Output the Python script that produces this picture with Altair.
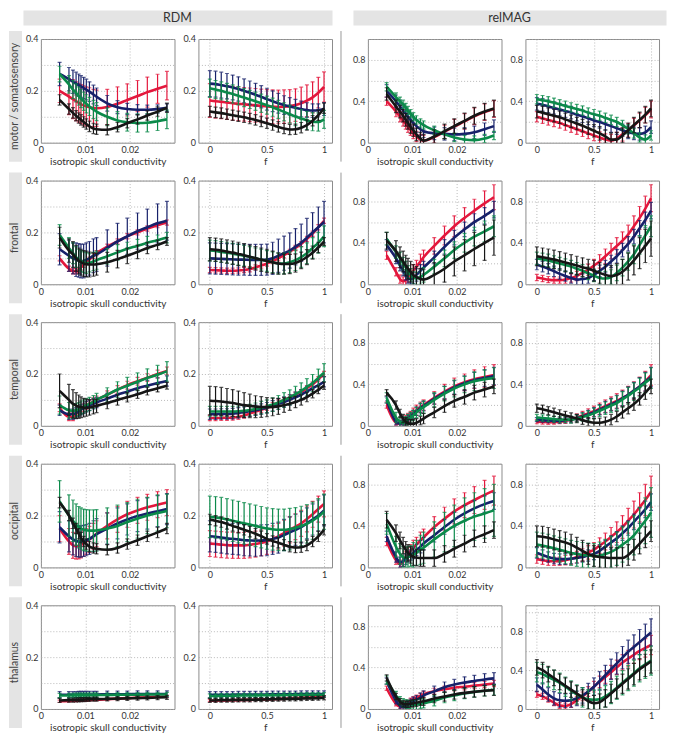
import altair as alt
import pandas as pd

# ---------------- x positions ----------------
XC = [0.0042, 0.0063, 0.0072, 0.0079, 0.0085, 0.0090, 0.0096, 0.0102, 0.0109, 0.0118,
      0.0125, 0.0149, 0.0172, 0.0194, 0.0217, 0.0239, 0.0262, 0.0283]
XF = [0.0, 0.05, 0.1, 0.15, 0.2, 0.25, 0.3, 0.35, 0.4, 0.45, 0.5,
      0.55, 0.6, 0.65, 0.7, 0.75, 0.8, 0.85, 0.9, 0.95, 1.0]

# ---------------- motor / somatosensory ----------------
motor_rdm_c_red = [0.200, 0.178, 0.168, 0.160, 0.154, 0.149, 0.144, 0.140, 0.137, 0.134, 0.133, 0.138, 0.150, 0.165, 0.180, 0.195, 0.208, 0.220]
motor_rdm_c_red_e = [0.045, 0.070, 0.075, 0.075, 0.075, 0.075, 0.075, 0.075, 0.075, 0.072, 0.070, 0.068, 0.065, 0.062, 0.060, 0.058, 0.056, 0.055]
motor_rdm_c_navy = [0.265, 0.245, 0.235, 0.228, 0.222, 0.217, 0.211, 0.205, 0.197, 0.186, 0.177, 0.152, 0.137, 0.130, 0.127, 0.127, 0.130, 0.135]
motor_rdm_c_navy_e = [0.045, 0.045, 0.045, 0.044, 0.043, 0.042, 0.041, 0.040, 0.038, 0.036, 0.034, 0.030, 0.025, 0.022, 0.020, 0.018, 0.016, 0.015]
motor_rdm_c_green = [0.265, 0.225, 0.205, 0.192, 0.180, 0.170, 0.160, 0.150, 0.140, 0.128, 0.120, 0.100, 0.086, 0.079, 0.076, 0.077, 0.083, 0.090]
motor_rdm_c_green_e = [0.030, 0.034, 0.035, 0.035, 0.035, 0.035, 0.035, 0.035, 0.035, 0.035, 0.035, 0.034, 0.034, 0.034, 0.035, 0.035, 0.036, 0.036]
motor_rdm_c_black = [0.165, 0.130, 0.115, 0.104, 0.095, 0.088, 0.080, 0.072, 0.063, 0.055, 0.052, 0.050, 0.060, 0.075, 0.090, 0.105, 0.120, 0.135]
motor_rdm_c_black_e = [0.020, 0.020, 0.020, 0.020, 0.020, 0.020, 0.020, 0.020, 0.020, 0.020, 0.020, 0.020, 0.018, 0.018, 0.018, 0.018, 0.018, 0.018]

motor_rdm_f_red = [0.163, 0.160, 0.158, 0.155, 0.152, 0.150, 0.148, 0.146, 0.144, 0.142, 0.140, 0.139, 0.138, 0.139, 0.141, 0.145, 0.152, 0.162, 0.175, 0.193, 0.215]
motor_rdm_f_red_e = [0.065, 0.065, 0.065, 0.065, 0.065, 0.065, 0.065, 0.065, 0.065, 0.065, 0.065, 0.065, 0.065, 0.065, 0.064, 0.063, 0.062, 0.061, 0.060, 0.059, 0.058]
motor_rdm_f_navy = [0.228, 0.226, 0.222, 0.218, 0.213, 0.207, 0.200, 0.193, 0.185, 0.177, 0.168, 0.160, 0.152, 0.145, 0.140, 0.135, 0.130, 0.126, 0.124, 0.125, 0.130]
motor_rdm_f_navy_e = [0.050, 0.050, 0.050, 0.049, 0.048, 0.047, 0.046, 0.045, 0.044, 0.043, 0.042, 0.040, 0.038, 0.036, 0.034, 0.032, 0.030, 0.028, 0.026, 0.025, 0.025]
motor_rdm_f_green = [0.210, 0.205, 0.200, 0.194, 0.188, 0.181, 0.174, 0.167, 0.160, 0.152, 0.145, 0.137, 0.128, 0.119, 0.110, 0.101, 0.093, 0.086, 0.081, 0.080, 0.090]
motor_rdm_f_green_e = [0.035, 0.035, 0.035, 0.035, 0.035, 0.035, 0.035, 0.035, 0.035, 0.035, 0.035, 0.035, 0.035, 0.035, 0.035, 0.035, 0.035, 0.035, 0.035, 0.035, 0.035]
motor_rdm_f_black = [0.120, 0.117, 0.114, 0.110, 0.106, 0.102, 0.098, 0.093, 0.088, 0.082, 0.075, 0.068, 0.061, 0.055, 0.051, 0.052, 0.058, 0.068, 0.085, 0.106, 0.133]
motor_rdm_f_black_e = [0.020, 0.020, 0.020, 0.020, 0.020, 0.020, 0.020, 0.020, 0.020, 0.020, 0.020, 0.020, 0.020, 0.020, 0.020, 0.020, 0.020, 0.020, 0.020, 0.020, 0.020]

motor_mag_c_red = [0.40, 0.30, 0.25, 0.21, 0.18, 0.15, 0.12, 0.09, 0.06, 0.03, 0.02, 0.055, 0.105, 0.155, 0.205, 0.255, 0.295, 0.325]
motor_mag_c_red_e = [0.040, 0.050, 0.050, 0.050, 0.050, 0.050, 0.050, 0.050, 0.050, 0.050, 0.050, 0.060, 0.065, 0.070, 0.075, 0.080, 0.080, 0.080]
motor_mag_c_navy = [0.50, 0.40, 0.35, 0.31, 0.28, 0.25, 0.22, 0.19, 0.16, 0.13, 0.11, 0.09, 0.085, 0.08, 0.085, 0.10, 0.13, 0.16]
motor_mag_c_navy_e = [0.060, 0.060, 0.060, 0.060, 0.060, 0.060, 0.060, 0.060, 0.060, 0.060, 0.060, 0.060, 0.060, 0.060, 0.060, 0.060, 0.060, 0.060]
motor_mag_c_green = [0.54, 0.44, 0.40, 0.37, 0.34, 0.31, 0.28, 0.25, 0.22, 0.19, 0.17, 0.12, 0.08, 0.05, 0.03, 0.025, 0.04, 0.07]
motor_mag_c_green_e = [0.040, 0.040, 0.040, 0.040, 0.040, 0.040, 0.040, 0.040, 0.040, 0.040, 0.040, 0.040, 0.040, 0.040, 0.040, 0.040, 0.040, 0.040]
motor_mag_c_black = [0.47, 0.35, 0.30, 0.26, 0.22, 0.19, 0.15, 0.12, 0.08, 0.04, 0.02, 0.06, 0.11, 0.16, 0.21, 0.26, 0.30, 0.33]
motor_mag_c_black_e = [0.060, 0.060, 0.060, 0.060, 0.060, 0.060, 0.060, 0.060, 0.060, 0.060, 0.060, 0.065, 0.070, 0.070, 0.075, 0.080, 0.080, 0.080]

motor_mag_f_red = [0.25, 0.235, 0.22, 0.205, 0.19, 0.17, 0.15, 0.13, 0.11, 0.09, 0.07, 0.05, 0.03, 0.02, 0.04, 0.08, 0.12, 0.165, 0.215, 0.265, 0.32]
motor_mag_f_red_e = [0.050, 0.050, 0.050, 0.050, 0.050, 0.050, 0.050, 0.050, 0.050, 0.050, 0.050, 0.055, 0.055, 0.060, 0.060, 0.065, 0.065, 0.070, 0.070, 0.075, 0.080]
motor_mag_f_navy = [0.375, 0.365, 0.35, 0.335, 0.32, 0.305, 0.29, 0.27, 0.255, 0.235, 0.215, 0.20, 0.18, 0.16, 0.14, 0.12, 0.10, 0.09, 0.085, 0.10, 0.15]
motor_mag_f_navy_e = [0.060, 0.060, 0.060, 0.060, 0.060, 0.060, 0.060, 0.060, 0.060, 0.060, 0.060, 0.060, 0.060, 0.060, 0.060, 0.060, 0.060, 0.060, 0.060, 0.060, 0.060]
motor_mag_f_green = [0.42, 0.41, 0.40, 0.385, 0.37, 0.355, 0.34, 0.325, 0.31, 0.29, 0.275, 0.26, 0.24, 0.22, 0.20, 0.17, 0.13, 0.09, 0.05, 0.03, 0.07]
motor_mag_f_green_e = [0.045, 0.045, 0.045, 0.045, 0.045, 0.045, 0.045, 0.045, 0.045, 0.045, 0.045, 0.045, 0.045, 0.045, 0.045, 0.045, 0.045, 0.045, 0.045, 0.045, 0.045]
motor_mag_f_black = [0.30, 0.29, 0.275, 0.26, 0.245, 0.225, 0.205, 0.185, 0.165, 0.14, 0.115, 0.09, 0.06, 0.03, 0.03, 0.07, 0.12, 0.17, 0.22, 0.27, 0.33]
motor_mag_f_black_e = [0.060, 0.060, 0.060, 0.060, 0.060, 0.060, 0.060, 0.060, 0.060, 0.060, 0.060, 0.065, 0.065, 0.065, 0.070, 0.070, 0.070, 0.075, 0.075, 0.080, 0.080]

# ---------------- frontal ----------------
frontal_rdm_c_red = [0.100, 0.060, 0.050, 0.050, 0.055, 0.065, 0.075, 0.085, 0.095, 0.110, 0.120, 0.145, 0.165, 0.185, 0.200, 0.215, 0.228, 0.238]
frontal_rdm_c_red_e = [0.010, 0.010, 0.010, 0.010, 0.010, 0.010, 0.010, 0.010, 0.010, 0.010, 0.010, 0.010, 0.010, 0.010, 0.010, 0.010, 0.010, 0.010]
frontal_rdm_c_navy = [0.135, 0.110, 0.100, 0.095, 0.092, 0.090, 0.090, 0.095, 0.100, 0.110, 0.115, 0.140, 0.165, 0.185, 0.205, 0.220, 0.235, 0.245]
frontal_rdm_c_navy_e = [0.060, 0.060, 0.060, 0.065, 0.065, 0.065, 0.065, 0.065, 0.065, 0.065, 0.065, 0.070, 0.070, 0.070, 0.070, 0.070, 0.075, 0.075]
frontal_rdm_c_green = [0.190, 0.140, 0.120, 0.105, 0.095, 0.090, 0.085, 0.082, 0.083, 0.088, 0.093, 0.108, 0.123, 0.137, 0.148, 0.160, 0.170, 0.180]
frontal_rdm_c_green_e = [0.040, 0.040, 0.040, 0.040, 0.040, 0.040, 0.040, 0.040, 0.035, 0.035, 0.035, 0.030, 0.030, 0.025, 0.025, 0.025, 0.020, 0.020]
frontal_rdm_c_black = [0.180, 0.130, 0.115, 0.100, 0.090, 0.085, 0.080, 0.078, 0.076, 0.076, 0.077, 0.085, 0.097, 0.110, 0.125, 0.140, 0.152, 0.165]
frontal_rdm_c_black_e = [0.040, 0.045, 0.050, 0.050, 0.050, 0.050, 0.050, 0.050, 0.048, 0.045, 0.042, 0.038, 0.034, 0.030, 0.026, 0.022, 0.018, 0.015]

frontal_rdm_f_red = [0.055, 0.054, 0.053, 0.052, 0.052, 0.053, 0.055, 0.058, 0.065, 0.072, 0.080, 0.090, 0.100, 0.112, 0.125, 0.140, 0.155, 0.175, 0.195, 0.220, 0.245]
frontal_rdm_f_red_e = [0.010, 0.010, 0.010, 0.010, 0.010, 0.010, 0.010, 0.010, 0.010, 0.010, 0.010, 0.010, 0.010, 0.010, 0.010, 0.010, 0.010, 0.010, 0.010, 0.010, 0.010]
frontal_rdm_f_navy = [0.100, 0.099, 0.098, 0.097, 0.096, 0.095, 0.095, 0.094, 0.094, 0.094, 0.095, 0.100, 0.110, 0.120, 0.130, 0.145, 0.160, 0.180, 0.200, 0.220, 0.240]
frontal_rdm_f_navy_e = [0.060, 0.060, 0.060, 0.060, 0.060, 0.060, 0.060, 0.060, 0.060, 0.060, 0.060, 0.062, 0.064, 0.066, 0.068, 0.070, 0.072, 0.074, 0.076, 0.078, 0.080]
frontal_rdm_f_green = [0.130, 0.128, 0.125, 0.122, 0.118, 0.114, 0.110, 0.105, 0.100, 0.095, 0.090, 0.085, 0.080, 0.080, 0.085, 0.093, 0.105, 0.120, 0.140, 0.160, 0.185]
frontal_rdm_f_green_e = [0.040, 0.040, 0.040, 0.040, 0.040, 0.040, 0.040, 0.040, 0.040, 0.040, 0.040, 0.040, 0.040, 0.040, 0.040, 0.040, 0.040, 0.040, 0.040, 0.040, 0.040]
frontal_rdm_f_black = [0.135, 0.133, 0.130, 0.126, 0.122, 0.117, 0.112, 0.106, 0.100, 0.095, 0.090, 0.085, 0.080, 0.078, 0.078, 0.082, 0.092, 0.105, 0.122, 0.142, 0.165]
frontal_rdm_f_black_e = [0.045, 0.045, 0.045, 0.045, 0.045, 0.045, 0.045, 0.045, 0.045, 0.045, 0.045, 0.043, 0.041, 0.039, 0.037, 0.035, 0.032, 0.029, 0.025, 0.020, 0.015]

frontal_mag_c_red = [0.28, 0.12, 0.05, 0.03, 0.04, 0.07, 0.10, 0.13, 0.17, 0.22, 0.26, 0.37, 0.47, 0.56, 0.64, 0.71, 0.78, 0.84]
frontal_mag_c_red_e = [0.04, 0.04, 0.04, 0.04, 0.05, 0.05, 0.05, 0.06, 0.06, 0.07, 0.07, 0.08, 0.09, 0.10, 0.10, 0.11, 0.12, 0.12]
frontal_mag_c_navy = [0.38, 0.25, 0.18, 0.13, 0.09, 0.06, 0.05, 0.06, 0.09, 0.13, 0.16, 0.26, 0.36, 0.45, 0.53, 0.60, 0.66, 0.72]
frontal_mag_c_navy_e = [0.05, 0.05, 0.05, 0.05, 0.05, 0.05, 0.05, 0.05, 0.06, 0.06, 0.06, 0.06, 0.07, 0.07, 0.07, 0.08, 0.08, 0.08]
frontal_mag_c_green = [0.44, 0.31, 0.25, 0.20, 0.16, 0.12, 0.09, 0.065, 0.055, 0.07, 0.09, 0.17, 0.25, 0.33, 0.40, 0.46, 0.51, 0.56]
frontal_mag_c_green_e = [0.06, 0.06, 0.06, 0.06, 0.06, 0.06, 0.06, 0.06, 0.06, 0.07, 0.07, 0.07, 0.08, 0.08, 0.09, 0.09, 0.10, 0.10]
frontal_mag_c_black = [0.42, 0.32, 0.26, 0.22, 0.18, 0.15, 0.12, 0.09, 0.07, 0.05, 0.045, 0.09, 0.15, 0.22, 0.28, 0.34, 0.40, 0.45]
frontal_mag_c_black_e = [0.08, 0.10, 0.10, 0.10, 0.10, 0.10, 0.10, 0.10, 0.10, 0.10, 0.10, 0.12, 0.13, 0.14, 0.15, 0.16, 0.17, 0.17]

frontal_mag_f_red = [0.065, 0.055, 0.045, 0.04, 0.04, 0.045, 0.06, 0.08, 0.11, 0.14, 0.18, 0.22, 0.27, 0.32, 0.37, 0.42, 0.48, 0.56, 0.64, 0.73, 0.83]
frontal_mag_f_red_e = [0.03, 0.03, 0.03, 0.03, 0.03, 0.035, 0.04, 0.045, 0.05, 0.055, 0.06, 0.065, 0.07, 0.075, 0.08, 0.085, 0.09, 0.10, 0.11, 0.12, 0.13]
frontal_mag_f_navy = [0.19, 0.17, 0.15, 0.125, 0.10, 0.08, 0.06, 0.045, 0.05, 0.06, 0.09, 0.13, 0.17, 0.22, 0.27, 0.33, 0.39, 0.46, 0.54, 0.62, 0.71]
frontal_mag_f_navy_e = [0.05, 0.05, 0.05, 0.05, 0.05, 0.05, 0.05, 0.05, 0.05, 0.05, 0.055, 0.055, 0.06, 0.06, 0.065, 0.065, 0.07, 0.07, 0.075, 0.075, 0.08]
frontal_mag_f_green = [0.25, 0.24, 0.23, 0.215, 0.20, 0.185, 0.17, 0.15, 0.13, 0.105, 0.085, 0.06, 0.055, 0.07, 0.11, 0.16, 0.22, 0.29, 0.38, 0.47, 0.56]
frontal_mag_f_green_e = [0.06, 0.06, 0.06, 0.06, 0.06, 0.06, 0.06, 0.06, 0.06, 0.06, 0.06, 0.065, 0.07, 0.07, 0.075, 0.08, 0.085, 0.09, 0.09, 0.095, 0.10]
frontal_mag_f_black = [0.27, 0.26, 0.25, 0.24, 0.225, 0.21, 0.195, 0.18, 0.165, 0.15, 0.13, 0.11, 0.09, 0.08, 0.09, 0.12, 0.17, 0.23, 0.30, 0.37, 0.44]
frontal_mag_f_black_e = [0.09, 0.09, 0.09, 0.09, 0.09, 0.09, 0.09, 0.09, 0.09, 0.09, 0.10, 0.10, 0.10, 0.10, 0.11, 0.12, 0.13, 0.14, 0.15, 0.16, 0.17]

# ---------------- temporal ----------------
temporal_rdm_c_red = [0.070, 0.035, 0.035, 0.045, 0.055, 0.062, 0.070, 0.078, 0.085, 0.093, 0.100, 0.120, 0.140, 0.157, 0.172, 0.186, 0.200, 0.212]
temporal_rdm_c_red_e = [0.015, 0.015, 0.015, 0.015, 0.015, 0.015, 0.015, 0.015, 0.015, 0.015, 0.015, 0.015, 0.015, 0.015, 0.015, 0.015, 0.015, 0.015]
temporal_rdm_c_navy = [0.060, 0.045, 0.045, 0.050, 0.056, 0.062, 0.068, 0.074, 0.079, 0.085, 0.090, 0.105, 0.120, 0.132, 0.145, 0.155, 0.165, 0.173]
temporal_rdm_c_navy_e = [0.020, 0.020, 0.020, 0.020, 0.020, 0.020, 0.020, 0.020, 0.020, 0.020, 0.020, 0.020, 0.020, 0.020, 0.020, 0.020, 0.020, 0.020]
temporal_rdm_c_green = [0.080, 0.060, 0.058, 0.060, 0.065, 0.070, 0.075, 0.080, 0.085, 0.092, 0.100, 0.120, 0.140, 0.155, 0.170, 0.185, 0.197, 0.210]
temporal_rdm_c_green_e = [0.035, 0.030, 0.028, 0.026, 0.025, 0.025, 0.025, 0.025, 0.025, 0.025, 0.025, 0.027, 0.030, 0.032, 0.034, 0.035, 0.036, 0.038]
temporal_rdm_c_black = [0.135, 0.100, 0.085, 0.078, 0.074, 0.072, 0.070, 0.070, 0.071, 0.074, 0.077, 0.088, 0.100, 0.110, 0.122, 0.134, 0.145, 0.155]
temporal_rdm_c_black_e = [0.065, 0.060, 0.055, 0.050, 0.045, 0.040, 0.036, 0.033, 0.030, 0.028, 0.026, 0.022, 0.020, 0.018, 0.016, 0.015, 0.014, 0.013]

temporal_rdm_f_red = [0.030, 0.030, 0.031, 0.031, 0.032, 0.035, 0.040, 0.047, 0.055, 0.062, 0.070, 0.080, 0.090, 0.100, 0.110, 0.120, 0.130, 0.145, 0.160, 0.180, 0.200]
temporal_rdm_f_red_e = [0.010, 0.010, 0.010, 0.010, 0.010, 0.010, 0.010, 0.010, 0.010, 0.010, 0.010, 0.010, 0.010, 0.010, 0.010, 0.010, 0.010, 0.010, 0.010, 0.010, 0.010]
temporal_rdm_f_navy = [0.045, 0.045, 0.046, 0.046, 0.047, 0.050, 0.053, 0.056, 0.060, 0.065, 0.070, 0.077, 0.085, 0.092, 0.100, 0.110, 0.120, 0.132, 0.145, 0.157, 0.170]
temporal_rdm_f_navy_e = [0.020, 0.020, 0.020, 0.020, 0.020, 0.020, 0.020, 0.020, 0.020, 0.020, 0.020, 0.020, 0.020, 0.020, 0.020, 0.020, 0.020, 0.020, 0.020, 0.020, 0.020]
temporal_rdm_f_green = [0.055, 0.055, 0.055, 0.055, 0.055, 0.056, 0.058, 0.061, 0.065, 0.070, 0.075, 0.082, 0.090, 0.100, 0.110, 0.122, 0.135, 0.150, 0.165, 0.185, 0.205]
temporal_rdm_f_green_e = [0.020, 0.020, 0.020, 0.020, 0.020, 0.020, 0.021, 0.022, 0.023, 0.024, 0.025, 0.026, 0.027, 0.028, 0.029, 0.030, 0.031, 0.032, 0.033, 0.034, 0.035]
temporal_rdm_f_black = [0.097, 0.096, 0.094, 0.091, 0.088, 0.084, 0.080, 0.077, 0.074, 0.073, 0.072, 0.073, 0.075, 0.080, 0.085, 0.092, 0.100, 0.111, 0.124, 0.139, 0.155]
temporal_rdm_f_black_e = [0.055, 0.055, 0.054, 0.053, 0.052, 0.050, 0.048, 0.045, 0.042, 0.040, 0.037, 0.034, 0.031, 0.028, 0.025, 0.022, 0.020, 0.018, 0.016, 0.015, 0.014]

temporal_mag_c_red = [0.20, 0.03, 0.02, 0.04, 0.06, 0.08, 0.10, 0.12, 0.15, 0.18, 0.20, 0.27, 0.33, 0.38, 0.42, 0.45, 0.47, 0.49]
temporal_mag_c_red_e = [0.03, 0.03, 0.03, 0.03, 0.04, 0.04, 0.04, 0.05, 0.05, 0.05, 0.05, 0.06, 0.07, 0.08, 0.08, 0.09, 0.10, 0.10]
temporal_mag_c_navy = [0.25, 0.04, 0.02, 0.03, 0.05, 0.07, 0.09, 0.11, 0.14, 0.17, 0.19, 0.26, 0.32, 0.37, 0.41, 0.44, 0.46, 0.48]
temporal_mag_c_navy_e = [0.03, 0.03, 0.03, 0.03, 0.035, 0.035, 0.035, 0.04, 0.04, 0.045, 0.045, 0.05, 0.06, 0.065, 0.07, 0.075, 0.08, 0.085]
temporal_mag_c_green = [0.27, 0.08, 0.04, 0.03, 0.04, 0.06, 0.08, 0.10, 0.13, 0.16, 0.18, 0.25, 0.31, 0.36, 0.40, 0.43, 0.45, 0.46]
temporal_mag_c_green_e = [0.05, 0.05, 0.05, 0.05, 0.05, 0.05, 0.05, 0.05, 0.05, 0.06, 0.06, 0.07, 0.07, 0.08, 0.08, 0.09, 0.09, 0.10]
temporal_mag_c_black = [0.32, 0.20, 0.12, 0.07, 0.04, 0.025, 0.02, 0.02, 0.03, 0.05, 0.07, 0.13, 0.19, 0.24, 0.28, 0.32, 0.35, 0.38]
temporal_mag_c_black_e = [0.03, 0.04, 0.04, 0.04, 0.04, 0.04, 0.04, 0.04, 0.04, 0.04, 0.05, 0.05, 0.06, 0.06, 0.07, 0.07, 0.07, 0.07]

temporal_mag_f_red = [0.04, 0.037, 0.035, 0.036, 0.04, 0.048, 0.06, 0.08, 0.10, 0.12, 0.14, 0.165, 0.19, 0.215, 0.24, 0.27, 0.30, 0.34, 0.38, 0.43, 0.49]
temporal_mag_f_red_e = [0.02, 0.02, 0.02, 0.02, 0.02, 0.025, 0.03, 0.035, 0.04, 0.045, 0.05, 0.055, 0.06, 0.065, 0.07, 0.075, 0.08, 0.085, 0.09, 0.095, 0.10]
temporal_mag_f_navy = [0.06, 0.055, 0.05, 0.05, 0.05, 0.055, 0.06, 0.075, 0.09, 0.11, 0.13, 0.155, 0.18, 0.205, 0.23, 0.265, 0.30, 0.34, 0.38, 0.425, 0.47]
temporal_mag_f_navy_e = [0.02, 0.02, 0.02, 0.02, 0.025, 0.025, 0.03, 0.03, 0.035, 0.04, 0.045, 0.05, 0.055, 0.06, 0.065, 0.07, 0.075, 0.08, 0.085, 0.09, 0.095]
temporal_mag_f_green = [0.08, 0.075, 0.07, 0.065, 0.06, 0.06, 0.06, 0.07, 0.085, 0.10, 0.12, 0.145, 0.17, 0.195, 0.22, 0.255, 0.29, 0.33, 0.37, 0.415, 0.46]
temporal_mag_f_green_e = [0.03, 0.03, 0.03, 0.03, 0.03, 0.03, 0.035, 0.035, 0.04, 0.045, 0.05, 0.055, 0.06, 0.065, 0.07, 0.075, 0.08, 0.085, 0.09, 0.095, 0.10]
temporal_mag_f_black = [0.17, 0.16, 0.145, 0.13, 0.115, 0.10, 0.085, 0.07, 0.055, 0.04, 0.03, 0.03, 0.04, 0.06, 0.09, 0.13, 0.17, 0.21, 0.26, 0.32, 0.38]
temporal_mag_f_black_e = [0.04, 0.04, 0.04, 0.04, 0.04, 0.04, 0.04, 0.04, 0.04, 0.04, 0.04, 0.045, 0.045, 0.05, 0.05, 0.055, 0.055, 0.06, 0.06, 0.065, 0.07]

# ---------------- occipital ----------------
occipital_rdm_c_red = [0.150, 0.100, 0.085, 0.082, 0.083, 0.087, 0.093, 0.100, 0.108, 0.120, 0.130, 0.160, 0.185, 0.205, 0.220, 0.232, 0.242, 0.250]
occipital_rdm_c_red_e = [0.050, 0.050, 0.050, 0.050, 0.050, 0.050, 0.050, 0.050, 0.050, 0.050, 0.050, 0.050, 0.050, 0.050, 0.050, 0.050, 0.050, 0.050]
occipital_rdm_c_navy = [0.155, 0.120, 0.108, 0.102, 0.100, 0.100, 0.102, 0.105, 0.110, 0.120, 0.128, 0.150, 0.170, 0.185, 0.198, 0.208, 0.217, 0.225]
occipital_rdm_c_navy_e = [0.060, 0.060, 0.060, 0.060, 0.060, 0.060, 0.060, 0.060, 0.060, 0.060, 0.060, 0.060, 0.060, 0.060, 0.060, 0.060, 0.060, 0.060]
occipital_rdm_c_green = [0.255, 0.200, 0.180, 0.165, 0.155, 0.150, 0.145, 0.143, 0.142, 0.142, 0.143, 0.150, 0.160, 0.175, 0.188, 0.200, 0.210, 0.218]
occipital_rdm_c_green_e = [0.080, 0.080, 0.080, 0.080, 0.080, 0.080, 0.080, 0.080, 0.080, 0.080, 0.080, 0.080, 0.080, 0.075, 0.075, 0.070, 0.070, 0.065]
occipital_rdm_c_black = [0.250, 0.200, 0.170, 0.150, 0.130, 0.115, 0.100, 0.090, 0.080, 0.075, 0.072, 0.068, 0.075, 0.090, 0.105, 0.120, 0.135, 0.150]
occipital_rdm_c_black_e = [0.020, 0.020, 0.020, 0.020, 0.020, 0.020, 0.020, 0.020, 0.020, 0.020, 0.020, 0.020, 0.020, 0.020, 0.020, 0.020, 0.020, 0.020]

occipital_rdm_f_red = [0.092, 0.090, 0.088, 0.086, 0.085, 0.085, 0.085, 0.087, 0.090, 0.095, 0.100, 0.110, 0.120, 0.132, 0.145, 0.157, 0.170, 0.187, 0.205, 0.225, 0.245]
occipital_rdm_f_red_e = [0.050, 0.050, 0.050, 0.050, 0.050, 0.050, 0.050, 0.050, 0.050, 0.050, 0.050, 0.050, 0.050, 0.050, 0.050, 0.050, 0.050, 0.050, 0.050, 0.050, 0.050]
occipital_rdm_f_navy = [0.120, 0.118, 0.115, 0.112, 0.110, 0.108, 0.105, 0.104, 0.103, 0.104, 0.105, 0.110, 0.115, 0.125, 0.135, 0.145, 0.155, 0.170, 0.185, 0.200, 0.220]
occipital_rdm_f_navy_e = [0.060, 0.060, 0.060, 0.060, 0.060, 0.060, 0.060, 0.060, 0.060, 0.060, 0.060, 0.060, 0.060, 0.060, 0.060, 0.060, 0.060, 0.060, 0.060, 0.060, 0.060]
occipital_rdm_f_green = [0.195, 0.193, 0.190, 0.185, 0.180, 0.175, 0.170, 0.165, 0.160, 0.155, 0.150, 0.147, 0.145, 0.145, 0.148, 0.153, 0.160, 0.168, 0.180, 0.195, 0.215]
occipital_rdm_f_green_e = [0.080, 0.080, 0.080, 0.080, 0.080, 0.080, 0.080, 0.080, 0.080, 0.080, 0.080, 0.080, 0.080, 0.080, 0.080, 0.078, 0.076, 0.074, 0.072, 0.070, 0.068]
occipital_rdm_f_black = [0.185, 0.180, 0.175, 0.168, 0.160, 0.153, 0.145, 0.138, 0.130, 0.120, 0.110, 0.102, 0.095, 0.087, 0.080, 0.077, 0.078, 0.085, 0.100, 0.120, 0.145]
occipital_rdm_f_black_e = [0.020, 0.020, 0.020, 0.020, 0.020, 0.020, 0.020, 0.020, 0.020, 0.020, 0.020, 0.020, 0.020, 0.020, 0.020, 0.020, 0.020, 0.020, 0.020, 0.020, 0.020]

occipital_mag_c_red = [0.25, 0.07, 0.03, 0.06, 0.10, 0.13, 0.16, 0.19, 0.22, 0.26, 0.29, 0.39, 0.47, 0.54, 0.60, 0.65, 0.70, 0.74]
occipital_mag_c_red_e = [0.04, 0.04, 0.04, 0.05, 0.05, 0.06, 0.06, 0.07, 0.07, 0.08, 0.08, 0.10, 0.11, 0.12, 0.12, 0.13, 0.14, 0.14]
occipital_mag_c_navy = [0.30, 0.10, 0.05, 0.06, 0.08, 0.10, 0.12, 0.14, 0.17, 0.20, 0.23, 0.31, 0.39, 0.46, 0.52, 0.57, 0.61, 0.64]
occipital_mag_c_navy_e = [0.05, 0.05, 0.05, 0.05, 0.05, 0.05, 0.05, 0.055, 0.055, 0.06, 0.06, 0.065, 0.07, 0.07, 0.075, 0.075, 0.08, 0.08]
occipital_mag_c_green = [0.42, 0.20, 0.13, 0.10, 0.09, 0.10, 0.11, 0.12, 0.14, 0.17, 0.19, 0.27, 0.34, 0.40, 0.45, 0.49, 0.52, 0.55]
occipital_mag_c_green_e = [0.10, 0.10, 0.10, 0.10, 0.10, 0.10, 0.10, 0.12, 0.12, 0.14, 0.15, 0.17, 0.19, 0.20, 0.22, 0.23, 0.24, 0.25]
occipital_mag_c_black = [0.46, 0.33, 0.26, 0.21, 0.17, 0.14, 0.12, 0.10, 0.095, 0.09, 0.09, 0.09, 0.13, 0.18, 0.23, 0.28, 0.32, 0.36]
occipital_mag_c_black_e = [0.08, 0.08, 0.08, 0.08, 0.08, 0.08, 0.08, 0.08, 0.08, 0.08, 0.08, 0.08, 0.08, 0.08, 0.08, 0.08, 0.08, 0.08]

occipital_mag_f_red = [0.08, 0.07, 0.06, 0.06, 0.06, 0.07, 0.08, 0.10, 0.12, 0.145, 0.17, 0.21, 0.25, 0.295, 0.34, 0.39, 0.45, 0.51, 0.58, 0.65, 0.73]
occipital_mag_f_red_e = [0.04, 0.04, 0.04, 0.04, 0.04, 0.045, 0.05, 0.055, 0.06, 0.065, 0.07, 0.075, 0.08, 0.09, 0.10, 0.11, 0.12, 0.13, 0.14, 0.15, 0.15]
occipital_mag_f_navy = [0.14, 0.12, 0.10, 0.085, 0.08, 0.08, 0.085, 0.09, 0.10, 0.115, 0.13, 0.16, 0.20, 0.24, 0.28, 0.33, 0.38, 0.44, 0.50, 0.56, 0.63]
occipital_mag_f_navy_e = [0.05, 0.05, 0.05, 0.05, 0.05, 0.05, 0.05, 0.05, 0.05, 0.055, 0.055, 0.06, 0.06, 0.065, 0.065, 0.07, 0.07, 0.075, 0.075, 0.08, 0.08]
occipital_mag_f_green = [0.22, 0.21, 0.20, 0.185, 0.17, 0.155, 0.14, 0.13, 0.12, 0.115, 0.11, 0.115, 0.13, 0.15, 0.18, 0.22, 0.26, 0.31, 0.38, 0.45, 0.53]
occipital_mag_f_green_e = [0.12, 0.12, 0.12, 0.12, 0.12, 0.12, 0.12, 0.12, 0.12, 0.12, 0.12, 0.13, 0.14, 0.15, 0.16, 0.17, 0.18, 0.19, 0.20, 0.22, 0.24]
occipital_mag_f_black = [0.30, 0.295, 0.285, 0.27, 0.255, 0.24, 0.22, 0.19, 0.16, 0.13, 0.11, 0.10, 0.095, 0.09, 0.09, 0.09, 0.12, 0.17, 0.23, 0.29, 0.35]
occipital_mag_f_black_e = [0.10, 0.10, 0.10, 0.10, 0.10, 0.10, 0.10, 0.10, 0.10, 0.10, 0.10, 0.10, 0.10, 0.10, 0.10, 0.10, 0.10, 0.10, 0.10, 0.10, 0.10]

# ---------------- thalamus ----------------
thalamus_rdm_c_red = [0.030, 0.031, 0.032, 0.032, 0.033, 0.033, 0.034, 0.034, 0.035, 0.036, 0.036, 0.038, 0.040, 0.042, 0.044, 0.045, 0.047, 0.048]
thalamus_rdm_c_red_e = [0.004, 0.004, 0.004, 0.004, 0.004, 0.004, 0.004, 0.004, 0.004, 0.004, 0.004, 0.004, 0.004, 0.004, 0.004, 0.004, 0.004, 0.004]
thalamus_rdm_c_navy = [0.055, 0.055, 0.055, 0.055, 0.056, 0.056, 0.056, 0.056, 0.056, 0.056, 0.056, 0.057, 0.057, 0.057, 0.058, 0.058, 0.058, 0.058]
thalamus_rdm_c_navy_e = [0.012, 0.012, 0.012, 0.012, 0.012, 0.012, 0.012, 0.012, 0.012, 0.012, 0.012, 0.012, 0.012, 0.012, 0.012, 0.012, 0.012, 0.012]
thalamus_rdm_c_green = [0.052, 0.052, 0.052, 0.053, 0.053, 0.053, 0.053, 0.053, 0.054, 0.054, 0.054, 0.054, 0.055, 0.055, 0.055, 0.056, 0.056, 0.056]
thalamus_rdm_c_green_e = [0.008, 0.008, 0.008, 0.008, 0.008, 0.008, 0.008, 0.008, 0.008, 0.008, 0.008, 0.008, 0.008, 0.008, 0.008, 0.008, 0.008, 0.008]
thalamus_rdm_c_black = [0.033, 0.034, 0.034, 0.035, 0.035, 0.036, 0.036, 0.037, 0.037, 0.038, 0.038, 0.039, 0.040, 0.041, 0.042, 0.043, 0.044, 0.045]
thalamus_rdm_c_black_e = [0.008, 0.008, 0.008, 0.008, 0.008, 0.008, 0.008, 0.008, 0.008, 0.008, 0.008, 0.008, 0.008, 0.008, 0.008, 0.008, 0.008, 0.008]

thalamus_rdm_f_red = [0.032, 0.032, 0.033, 0.033, 0.034, 0.034, 0.035, 0.035, 0.036, 0.037, 0.037, 0.038, 0.039, 0.040, 0.041, 0.042, 0.043, 0.044, 0.045, 0.047, 0.048]
thalamus_rdm_f_red_e = [0.004, 0.004, 0.004, 0.004, 0.004, 0.004, 0.004, 0.004, 0.004, 0.004, 0.004, 0.004, 0.004, 0.004, 0.004, 0.004, 0.004, 0.004, 0.004, 0.004, 0.004]
thalamus_rdm_f_navy = [0.055, 0.055, 0.055, 0.055, 0.055, 0.056, 0.056, 0.056, 0.056, 0.056, 0.056, 0.057, 0.057, 0.057, 0.057, 0.057, 0.058, 0.058, 0.058, 0.058, 0.058]
thalamus_rdm_f_navy_e = [0.012, 0.012, 0.012, 0.012, 0.012, 0.012, 0.012, 0.012, 0.012, 0.012, 0.012, 0.012, 0.012, 0.012, 0.012, 0.012, 0.012, 0.012, 0.012, 0.012, 0.012]
thalamus_rdm_f_green = [0.050, 0.050, 0.051, 0.051, 0.051, 0.052, 0.052, 0.052, 0.052, 0.053, 0.053, 0.053, 0.053, 0.054, 0.054, 0.054, 0.054, 0.055, 0.055, 0.055, 0.055]
thalamus_rdm_f_green_e = [0.008, 0.008, 0.008, 0.008, 0.008, 0.008, 0.008, 0.008, 0.008, 0.008, 0.008, 0.008, 0.008, 0.008, 0.008, 0.008, 0.008, 0.008, 0.008, 0.008, 0.008]
thalamus_rdm_f_black = [0.033, 0.033, 0.034, 0.034, 0.034, 0.035, 0.035, 0.035, 0.036, 0.036, 0.037, 0.037, 0.038, 0.038, 0.039, 0.039, 0.040, 0.041, 0.041, 0.042, 0.043]
thalamus_rdm_f_black_e = [0.008, 0.008, 0.008, 0.008, 0.008, 0.008, 0.008, 0.008, 0.008, 0.008, 0.008, 0.008, 0.008, 0.008, 0.008, 0.008, 0.008, 0.008, 0.008, 0.008, 0.008]

thalamus_mag_c_red = [0.20, 0.05, 0.02, 0.03, 0.05, 0.065, 0.08, 0.095, 0.11, 0.125, 0.14, 0.17, 0.19, 0.205, 0.215, 0.225, 0.235, 0.245]
thalamus_mag_c_red_e = [0.02, 0.02, 0.02, 0.02, 0.02, 0.02, 0.025, 0.025, 0.025, 0.025, 0.03, 0.03, 0.03, 0.03, 0.03, 0.03, 0.03, 0.03]
thalamus_mag_c_navy = [0.27, 0.08, 0.03, 0.02, 0.03, 0.045, 0.06, 0.075, 0.09, 0.11, 0.13, 0.17, 0.21, 0.235, 0.255, 0.27, 0.285, 0.295]
thalamus_mag_c_navy_e = [0.03, 0.03, 0.03, 0.03, 0.03, 0.035, 0.035, 0.04, 0.04, 0.045, 0.045, 0.05, 0.05, 0.05, 0.055, 0.055, 0.055, 0.055]
thalamus_mag_c_green = [0.28, 0.13, 0.08, 0.06, 0.05, 0.045, 0.04, 0.04, 0.042, 0.05, 0.055, 0.08, 0.11, 0.13, 0.15, 0.165, 0.175, 0.185]
thalamus_mag_c_green_e = [0.04, 0.04, 0.04, 0.04, 0.04, 0.04, 0.04, 0.045, 0.045, 0.045, 0.045, 0.05, 0.05, 0.05, 0.05, 0.05, 0.05, 0.05]
thalamus_mag_c_black = [0.30, 0.12, 0.07, 0.05, 0.045, 0.045, 0.05, 0.055, 0.06, 0.07, 0.075, 0.10, 0.12, 0.14, 0.155, 0.165, 0.175, 0.18]
thalamus_mag_c_black_e = [0.03, 0.03, 0.03, 0.03, 0.03, 0.03, 0.03, 0.035, 0.035, 0.035, 0.04, 0.04, 0.045, 0.045, 0.05, 0.05, 0.05, 0.05]

thalamus_mag_f_red = [0.15, 0.13, 0.10, 0.065, 0.035, 0.03, 0.05, 0.09, 0.13, 0.18, 0.23, 0.28, 0.33, 0.38, 0.43, 0.48, 0.52, 0.56, 0.60, 0.63, 0.66]
thalamus_mag_f_red_e = [0.03, 0.03, 0.03, 0.03, 0.03, 0.03, 0.035, 0.04, 0.045, 0.05, 0.055, 0.06, 0.065, 0.07, 0.075, 0.08, 0.085, 0.09, 0.09, 0.095, 0.10]
thalamus_mag_f_navy = [0.25, 0.20, 0.15, 0.11, 0.09, 0.085, 0.09, 0.11, 0.14, 0.18, 0.23, 0.29, 0.35, 0.41, 0.47, 0.53, 0.59, 0.64, 0.69, 0.74, 0.79]
thalamus_mag_f_navy_e = [0.07, 0.07, 0.07, 0.07, 0.07, 0.07, 0.07, 0.075, 0.08, 0.085, 0.09, 0.095, 0.10, 0.105, 0.11, 0.115, 0.12, 0.125, 0.13, 0.135, 0.14]
thalamus_mag_f_green = [0.38, 0.36, 0.33, 0.30, 0.27, 0.23, 0.19, 0.15, 0.12, 0.10, 0.095, 0.10, 0.13, 0.17, 0.22, 0.27, 0.32, 0.37, 0.42, 0.46, 0.50]
thalamus_mag_f_green_e = [0.10, 0.10, 0.10, 0.10, 0.10, 0.10, 0.10, 0.10, 0.10, 0.10, 0.10, 0.105, 0.11, 0.115, 0.12, 0.125, 0.13, 0.135, 0.14, 0.145, 0.15]
thalamus_mag_f_black = [0.43, 0.40, 0.36, 0.32, 0.28, 0.24, 0.20, 0.16, 0.12, 0.08, 0.06, 0.07, 0.11, 0.16, 0.21, 0.26, 0.31, 0.36, 0.41, 0.45, 0.49]
thalamus_mag_f_black_e = [0.08, 0.08, 0.08, 0.08, 0.08, 0.08, 0.08, 0.08, 0.08, 0.08, 0.08, 0.085, 0.09, 0.095, 0.10, 0.10, 0.105, 0.11, 0.11, 0.115, 0.12]

# ---------------- labels / styling ----------------
REGIONS = ["motor", "frontal", "temporal", "occipital", "thalamus"]
REGION_LABELS = ["motor / somatosensory", "frontal", "temporal", "occipital", "thalamus"]
SERIES = ["red", "navy", "green", "black"]
COLORS = {"red": "#e3173c", "navy": "#17216a", "green": "#0b8a4a", "black": "#161616"}
FONT = "Lato"
W, H = 134, 104
GRAY = "#e4e4e4"
G = globals()


def panel(reg, kind):
    is_c = kind.endswith("_c")
    xs = XC if is_c else XF
    rows = []
    for s in SERIES:
        ys = G[f"{reg}_{kind}_{s}"]
        es = G[f"{reg}_{kind}_{s}_e"]
        if len(ys) != len(xs) or len(es) != len(xs):
            raise ValueError(f"length mismatch {reg}_{kind}_{s}")
        for x, y, e in zip(xs, ys, es):
            rows.append({"s": s, "x": x, "y": y, "lo": y - e, "hi": y + e})
    df = pd.DataFrame(rows)
    rdm = kind.startswith("rdm")
    if rdm:
        ydom, yvals = [0, 0.4], [0, 0.1, 0.2, 0.3, 0.4]
        lab = "round(datum.value*10) % 2 == 0 ? datum.label : ''"
    else:
        ytop = 1.07 if (reg == "thalamus" and kind == "mag_f") else 1.0
        ydom, yvals = [0, ytop], [0, 0.2, 0.4, 0.6, 0.8, 1.0]
        lab = "round(datum.value*10) % 4 == 0 ? datum.label : ''"
    if is_c:
        xdom, xvals, xt = [0, 0.03], [0, 0.01, 0.02], "isotropic skull conductivity"
    else:
        xdom, xvals, xt = [-0.1, 1.07], [0, 0.5, 1], "f"
    xs_ = alt.Scale(domain=xdom, nice=False, zero=False)
    ys_ = alt.Scale(domain=ydom, nice=False, zero=False)
    xax = alt.Axis(values=xvals, format="~g", title=xt, labelFlush=False)
    yax = alt.Axis(values=yvals, format="~g", labelExpr=lab, title=None)
    X = alt.X("x:Q", scale=xs_, axis=xax)
    layers = []
    base = alt.Chart(df)
    for s in SERIES:
        c = COLORS[s]
        b = base.transform_filter(alt.datum.s == s)
        layers.append(b.mark_rule(color=c, strokeWidth=1.2, clip=True).encode(
            x=X, y=alt.Y("lo:Q", scale=ys_, axis=yax), y2="hi:Q"))
        layers.append(b.mark_tick(color=c, orient="horizontal", size=4, thickness=1.2, clip=True).encode(
            x=X, y=alt.Y("lo:Q", scale=ys_, axis=yax)))
        layers.append(b.mark_tick(color=c, orient="horizontal", size=4, thickness=1.2, clip=True).encode(
            x=X, y=alt.Y("hi:Q", scale=ys_, axis=yax)))
        layers.append(b.mark_line(color=c, strokeWidth=2.6, interpolate="monotone", clip=True).encode(
            x=X, y=alt.Y("y:Q", scale=ys_, axis=yax)))
    return alt.layer(*layers).properties(width=W, height=H)


BLANK = pd.DataFrame({"a": [0]})


def spacer(w, h):
    return alt.Chart(BLANK).mark_point(opacity=0, size=1).encode(
        x=alt.value(w / 2), y=alt.value(h / 2)
    ).properties(width=w, height=h, view=alt.ViewBackground(stroke="transparent"))


def label_chart(text):
    d = pd.DataFrame({"t": [text]})
    b = alt.Chart(d)
    rect = b.mark_rect(color=GRAY).encode(
        x=alt.value(0), x2=alt.value(13), y=alt.value(-8), y2=alt.value(H + 19))
    txt = b.mark_text(angle=270, fontSize=10.5, color="#444444", font=FONT,
                      align="center", baseline="middle").encode(
        text="t:N", x=alt.value(6.5), y=alt.value(H / 2 + 5.5))
    return alt.layer(rect, txt).properties(width=13, height=H,
                                           view=alt.ViewBackground(stroke="transparent"))


def sep_chart():
    return alt.Chart(BLANK).mark_rule(color="#9a9a9a", strokeWidth=1).encode(
        x=alt.value(9), y=alt.value(-8), y2=alt.value(H + 19)
    ).properties(width=36, height=H, view=alt.ViewBackground(stroke="transparent"))


def header(text, w):
    d = pd.DataFrame({"t": [text]})
    return alt.Chart(d).mark_text(fontSize=12.5, color="#333333", font=FONT,
                                  align="center", baseline="middle").encode(
        text="t:N", x=alt.value(w / 2), y=alt.value(8)
    ).properties(width=w, height=15, view=alt.ViewBackground(fill=GRAY, stroke="transparent"))


row_charts = []
for reg, name in zip(REGIONS, REGION_LABELS):
    row_charts.append(alt.hconcat(
        label_chart(name), spacer(19, H),
        panel(reg, "rdm_c"), spacer(24, H), panel(reg, "rdm_f"),
        sep_chart(),
        panel(reg, "mag_c"), spacer(24, H), panel(reg, "mag_f"),
        spacing=0, bounds="flush"))

header_row = alt.hconcat(spacer(14, 15), header("RDM", 310), spacer(21, 15),
                         header("relMAG", 314), spacing=0, bounds="flush")

chart = alt.vconcat(header_row, *row_charts, spacing=4, bounds="full").properties(
    padding={"left": 0, "top": 0, "right": 0, "bottom": 0}
).configure_view(
    stroke="#8c8c8c", strokeWidth=1
).configure_axis(
    labelFont=FONT, labelFontSize=9, labelColor="#333333",
    titleFont=FONT, titleFontSize=10, titleFontWeight="normal", titleColor="#333333",
    domain=False, ticks=False, labelPadding=3, titlePadding=2,
    gridColor="#a8a8a8", gridDash=[1, 2], gridWidth=0.8
).configure_text(font=FONT)

chart.save("out.html", embed_options={"renderer": "svg", "actions": False})
